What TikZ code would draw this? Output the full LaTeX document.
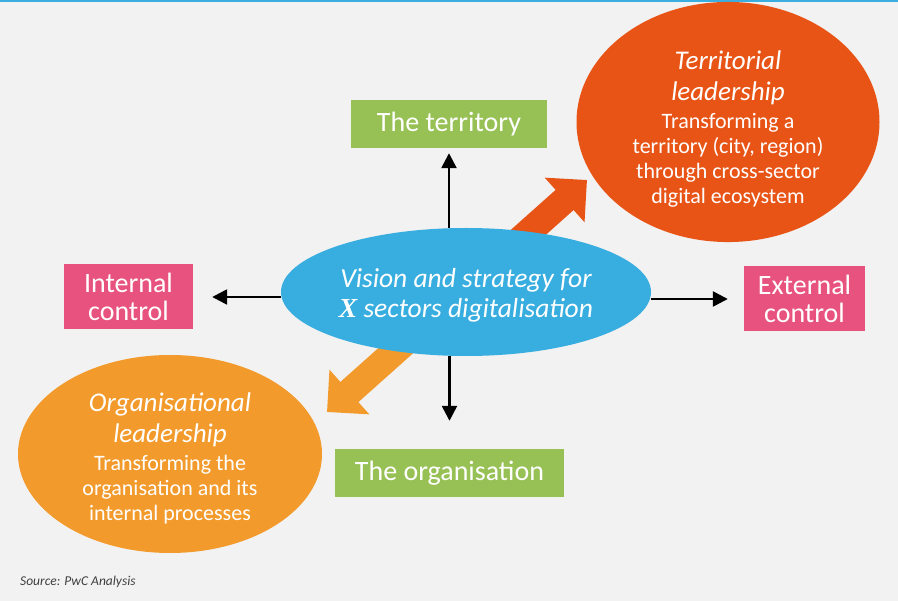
\documentclass[tikz,border=0pt]{standalone}
\usepackage{fontspec}
\setmainfont{Carlito}
\newfontfamily\xfont{Liberation Serif}
\usetikzlibrary{shapes.geometric,arrows.meta}
\definecolor{bggrey}{HTML}{F2F2F2}
\definecolor{topblue}{HTML}{3AAEE0}
\definecolor{visionblue}{HTML}{38ADDF}
\definecolor{boxgreen}{HTML}{97C155}
\definecolor{boxpink}{HTML}{E8527E}
\definecolor{terrorange}{HTML}{E85416}
\definecolor{orgorange}{HTML}{F29A2B}
\definecolor{srcgrey}{HTML}{404040}
\newcommand{\bigit}[1]{{\fontsize{27}{30}\selectfont\itshape #1}}
\begin{document}
\begin{tikzpicture}[x=1pt,y=-1pt,
 box/.style={rectangle, fill=#1, text=white, inner sep=0pt, align=center, font=\fontsize{28}{28}\selectfont},
 bubble/.style={ellipse, fill=#1, text=white, inner sep=0pt, align=center, font=\fontsize{22}{25}\selectfont},
 axisarrow/.style={-{Triangle[length=15pt,width=15pt]}, line width=2.5pt, black},
 bigarrow/.style={-{Triangle[length=30pt,width=58pt]}, line width=27pt, draw=#1}]
 \useasboundingbox (0,0) rectangle (898,601);
 \fill[bggrey] (0,0) rectangle (898,601);
 \fill[topblue] (0,0) rectangle (898,2);
 % two leadership arrows, behind the vision
 \coordinate (hub) at (457,296);
 \coordinate (tipT) at (587,180);
 \coordinate (tipO) at (327,412);
 \draw[bigarrow=terrorange] (hub) -- (tipT);
 \draw[bigarrow=orgorange] (hub) -- (tipO);
 \node[bubble=visionblue, minimum width=370, minimum height=128, font=\fontsize{27.5}{30}\selectfont\itshape] (vision) at (466,292)
  {\rule{0pt}{26pt}Vision and strategy for\\{\xfont\bfseries X} sectors digitalisation};
 \node[bubble=terrorange, minimum width=303, minimum height=196] (terr) at (728,122)
  {\bigit{\rule{0pt}{32pt}Territorial}\\[6pt]\bigit{leadership}\\[3pt]Transforming a\\territory (city, region)\\through cross-sector\\digital ecosystem};
 \node[bubble=orgorange, minimum width=304, minimum height=198] (org) at (170,454)
  {\bigit{\rule{0pt}{27pt}Organisational}\\[6pt]\bigit{leadership}\\[3pt]Transforming the\\organisation and its\\internal processes};
 % the four directions
 \node[box=boxgreen, minimum width=196, minimum height=48] (territory) at (449,124) {The territory};
 \node[box=boxgreen, minimum width=229, minimum height=48] (organisation) at (449.5,473) {The organisation};
 \node[box=boxpink, minimum width=129, minimum height=65] (internal) at (128.5,297) {Internal\\control};
 \node[box=boxpink, minimum width=121, minimum height=65] (external) at (804.5,299) {External\\control};
 \draw[axisarrow, shorten >=5pt] (vision.north -| territory) -- (territory);
 \draw[axisarrow, shorten >=28pt] (vision.south -| organisation) -- (organisation);
 \draw[axisarrow, shorten >=19pt] (vision.west |- internal) -- (internal);
 \draw[axisarrow, shorten >=16pt] (vision.east |- external) -- (external);
 \node[anchor=base west, inner sep=0pt, text=srcgrey, font=\fontsize{13.5}{15}\selectfont\itshape] (source) at (20,586) {Source: PwC Analysis};
\end{tikzpicture}
\end{document}
